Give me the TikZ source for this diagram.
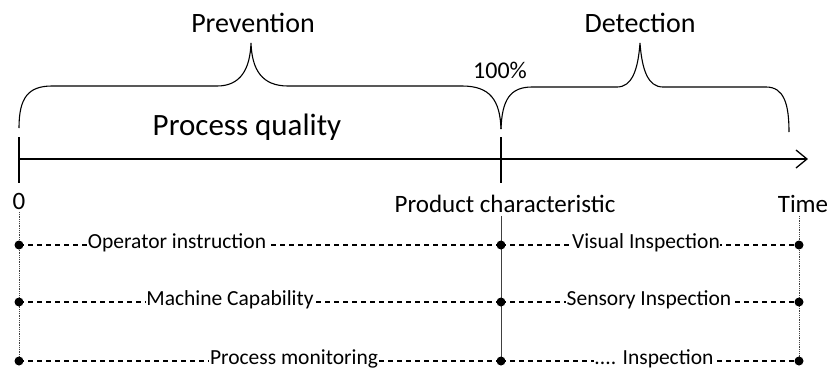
\documentclass[tikz,border=0pt]{standalone}
\usepackage{fontspec}
\setmainfont{Carlito}
\usetikzlibrary{arrows.meta}
\begin{document}
\begin{tikzpicture}[x=1pt,y=-1pt,
  lbl/.style={inner sep=0pt, font=\fontsize{25}{28}\selectfont},
  title/.style={inner sep=0pt, font=\fontsize{28}{32}\selectfont},
  big/.style={inner sep=0pt, font=\fontsize{31}{35}\selectfont},
  item/.style={fill=white, inner sep=0.6pt, text height=11pt, text depth=4pt,
               font=\fontsize{21.5}{24}\selectfont},
  dotnode/.style={circle, fill=black, inner sep=0pt, minimum size=9pt},
  brace/.style={line width=1.1pt},
  lead/.style={dash pattern=on 5pt off 4pt, line width=1.1pt},
  guide/.style={densely dotted, line width=0.8pt, black!75},
  midguide/.style={line width=0.8pt, black!75},
  tick/.style={line width=2.4pt}]
\useasboundingbox (0,0) rectangle (831,373);

% headings
\node[title] (prev) at (253,23) {Prevention};
\node[title] (det)  at (640,23) {Detection};
\node[inner sep=0pt, font=\fontsize{24}{27}\selectfont] (pct) at (500,70) {100\%};
\node[big]   (pq)   at (247,127) {Process quality};

% braces
\draw[brace] (19,128) .. controls (19,98) and (28,86) .. (52,86)
  -- (217,86) .. controls (240,86) and (250,70) .. (251,43)
  .. controls (252,70) and (262,86) .. (288,86)
  -- (462,86) .. controls (490,86) and (500,100) .. (501,129);
\draw[brace] (501,129) .. controls (502,100) and (510,87) .. (532,87)
  -- (617,87) .. controls (632,87) and (638,70) .. (640,43)
  .. controls (642,70) and (648,87) .. (663,87)
  -- (766,87) .. controls (784,87) and (789,104) .. (789,132);

% time axis
\coordinate (t0) at (19,159);
\coordinate (tend) at (808,159);
\draw[line width=1.3pt, -{Straight Barb[length=11pt,width=18pt,line width=1.3pt]}] (t0) -- (tend);
\coordinate (k0a) at (19,137);  \coordinate (k0b) at (19,183);
\coordinate (k1a) at (501,137); \coordinate (k1b) at (501,183);
\draw[tick] (k0a) -- (k0b);
\draw[tick] (k1a) -- (k1b);

% axis labels
\node[lbl] (zero) at (19,201) {0};
\node[lbl] (pc)   at (505,204) {Product characteristic};
\node[lbl] (time) at (803,204) {Time};

% row end points
\foreach \r/\y in {1/245,2/302,3/361}{
  \coordinate (L\r) at (19,\y);
  \coordinate (M\r) at (501,\y);
  \coordinate (R\r) at (799,\y);
}
\coordinate (Ltop) at (19,212);
\coordinate (Mtop) at (501,216);
\coordinate (Rtop) at (799,216);

% vertical guides
\draw[guide] (Ltop) -- (L3);
\draw[midguide] (Mtop) -- (M3);
\draw[guide] (Rtop) -- (R3);

% dashed leaders
\foreach \r in {1,2,3}{
  \draw[lead] (L\r) -- (M\r);
  \draw[lead] (M\r) -- (R\r);
}

% measures
\node[item] (oi) at (177,245) {Operator instruction};
\node[item] (mc) at (230,302) {Machine Capability};
\node[item] (pm) at (294,361) {Process monitoring};
\node[item] (vi) at (646,245) {Visual Inspection};
\node[item] (si) at (649,302) {Sensory Inspection};
\node[item] (xi) at (654,361) {.... Inspection};

% end point dots
\foreach \r in {1,2,3}{
  \node[dotnode] (dL\r) at (L\r) {};
  \node[dotnode] (dM\r) at (M\r) {};
  \node[dotnode] (dR\r) at (R\r) {};
}
\end{tikzpicture}
\end{document}
